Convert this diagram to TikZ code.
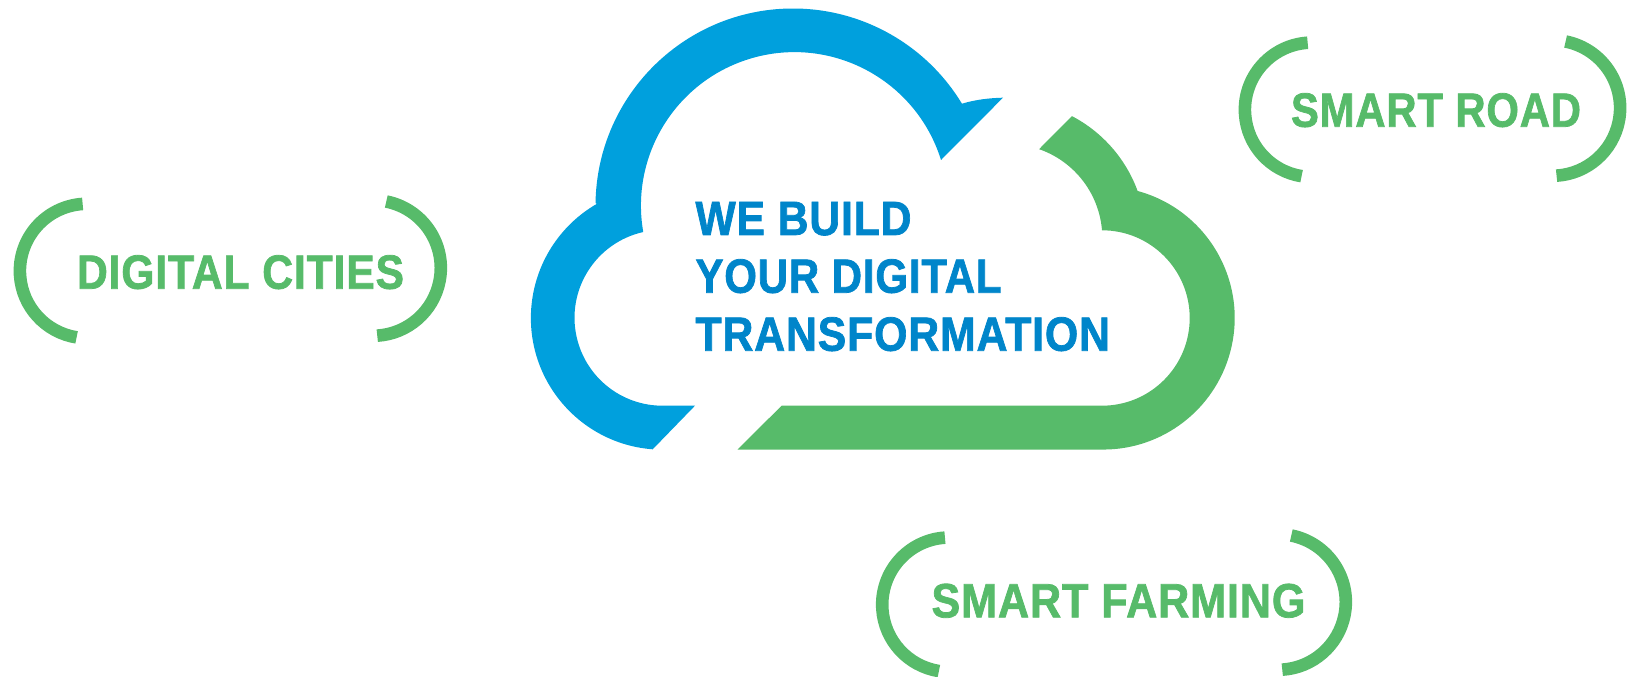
\documentclass[tikz,border=0pt]{standalone}
\usepackage{fontspec}
\usepackage{graphicx}
\setmainfont{Liberation Sans}[LetterSpace=2,BoldFeatures={FakeBold=1.6}]
\definecolor{cloudblue}{HTML}{00A0DD}
\definecolor{cloudgreen}{HTML}{57BB6A}
\definecolor{textblue}{HTML}{0085CA}
\newcommand{\fitline}[2]{\resizebox{#1pt}{\height}{\fontsize{48}{48}\selectfont\bfseries #2}}
\tikzset{
  bracketarc/.style={draw=cloudgreen,line width=12.6pt,line cap=butt},
  label/.style={anchor=base west,inner sep=0pt,outer sep=0pt,text=cloudgreen},
  headline/.style={anchor=base west,inner sep=0pt,outer sep=0pt,text=textblue}
}
\newcommand{\bracketpair}[4]{%
  \draw[bracketarc] (#1,#2) ++(93.8:67.2) arc[start angle=93.8,end angle=261,radius=67.2];
  \draw[bracketarc] (#3,#4) ++(78.7:67.8) arc[start angle=78.7,end angle=-86.4,radius=67.8];
}
\begin{document}
\begin{tikzpicture}[x=1pt,y=1pt]
\useasboundingbox (0,0) rectangle (1630,677);
% blue half of the cloud
\coordinate (big) at (793,471);
\coordinate (top) at (1008,438.6);
\fill[cloudblue]
  (big) ++(179.1:197.5) arc[start angle=179.1,end angle=31.2,radius=197.5]
  .. controls (976,577.5) and (990,579) .. (1003,579.3)
  -- (941,517)
  arc[start angle=17.3,end angle=189.9,radius=153.5]
  arc[start angle=102.6,end angle=270,radius=87.9]
  -- (695,271.3) -- (652.7,227.7)
  arc[start angle=265.7,end angle=120,radius=131.7]
  -- cycle;
% green half of the cloud
\fill[cloudgreen]
  (top) ++(62.4:138) arc[start angle=62.4,end angle=20.1,radius=138]
  arc[start angle=74.8,end angle=-90,radius=131.6]
  -- (737.5,227.4) -- (781.6,271.3) -- (1102,271.3)
  arc[start angle=-90,end angle=90,radius=87.7]
  arc[start angle=4.7,end angle=70.9,radius=94]
  -- cycle;
% headline
\node[headline] (h1) at (695.5,442) {\fitline{216}{WE BUILD}};
\node[headline] (h2) at (695.5,384.3) {\fitline{306}{YOUR DIGITAL}};
\node[headline] (h3) at (695.5,326.3) {\fitline{414.5}{TRANSFORMATION}};
% satellites
\bracketpair{87.1}{406}{373}{409}
\node[label] (cities) at (77,388.3) {\fitline{327}{DIGITAL CITIES}};
\bracketpair{1312.1}{567.2}{1552.3}{569}
\node[label] (road) at (1291,550.3) {\fitline{290}{SMART ROAD}};
\bracketpair{949.4}{72.3}{1278}{75}
\node[label] (farming) at (931.5,59.7) {\fitline{374}{SMART FARMING}};
\end{tikzpicture}
\end{document}
